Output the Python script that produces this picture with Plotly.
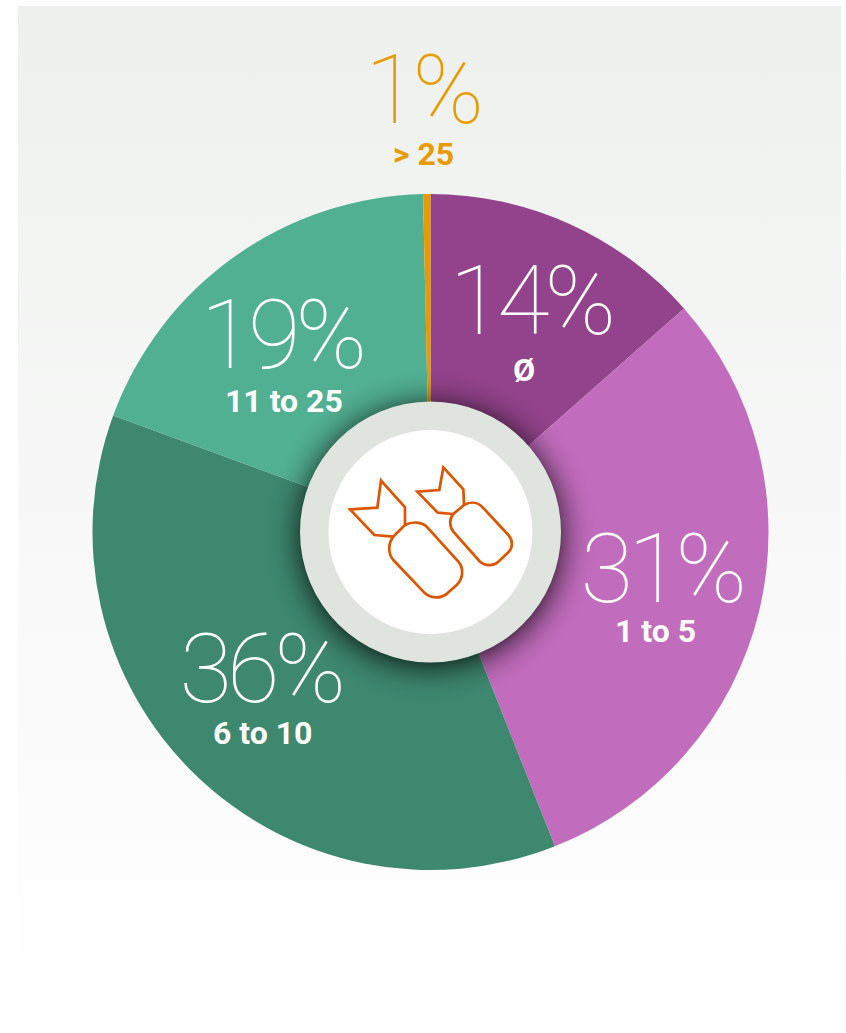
import base64
import plotly.graph_objects as go

W, H = 846, 1033

# data
categories = ["Ø", "1 to 5", "6 to 10", "11 to 25", "> 25"]
slice_values = [13.5, 30.5, 36.6, 19.05, 0.35]
percent_labels = ["14%", "31%", "36%", "19%", "1%"]
slice_colors = ["#93438B", "#C26CBD", "#3E8870", "#52B092", "#E89B00"]

# text placement (pixels): percent centre, label centre
pct_pos = [(530, 301), (661, 569), (260, 669), (281, 335), (422, 90)]
cat_pos = [(524, 370), (655, 631), (262, 733), (284, 401), (424, 154)]
text_colors = ["#FFFFFF", "#FFFFFF", "#FFFFFF", "#FFFFFF", "#E89B00"]

CX, CY, R = 430.5, 532, 338


def px(x):
    return x / W


def py(y):
    return 1 - y / H


def svg_uri(body):
    svg = f'<svg xmlns="http://www.w3.org/2000/svg" width="{W}" height="{H}" viewBox="0 0 {W} {H}">{body}</svg>'
    return "data:image/svg+xml;base64," + base64.b64encode(svg.encode()).decode()


bg = svg_uri(
    '<defs><linearGradient id="g" x1="0" y1="0" x2="0" y2="1">'
    '<stop offset="0" stop-color="#EEF0EE"/><stop offset="1" stop-color="#FFFFFF"/>'
    '</linearGradient></defs><rect x="18" y="6" width="823" height="986" fill="url(#g)"/>'
)
shadow = svg_uri(
    '<defs><radialGradient id="s" gradientUnits="userSpaceOnUse" cx="431" cy="536" r="168">'
    '<stop offset="0.76" stop-color="#000" stop-opacity="0.5"/>'
    '<stop offset="0.80" stop-color="#000" stop-opacity="0.33"/>'
    '<stop offset="0.85" stop-color="#000" stop-opacity="0.17"/>'
    '<stop offset="0.90" stop-color="#000" stop-opacity="0.07"/>'
    '<stop offset="0.95" stop-color="#000" stop-opacity="0.02"/>'
    '<stop offset="1" stop-color="#000" stop-opacity="0"/>'
    '</radialGradient></defs><circle cx="431" cy="536" r="168" fill="url(#s)"/>'
)


def z(x, y):
    """zoom-crop coordinates to paper coordinates"""
    return f"{px(290 + x / 3):.5f},{py(390 + y / 3):.5f}"


def path(cmds):
    out = []
    for c in cmds:
        out.append(c[0] + " ".join(z(*p) for p in c[1:]))
    return " ".join(out)


tail_big = path([("M", (345, 405)), ("L", (345, 352)), ("L", (273, 272)), ("L", (262, 353)), ("L", (180, 358)),
                 ("L", (253, 435)), ("L", (310, 440))])
body_big = path([("M", (345, 405)), ("C", (365, 395), (395, 393), (412, 412)), ("L", (505, 515)),
                 ("C", (522, 535), (520, 565), (500, 585)), ("L", (472, 610)),
                 ("C", (450, 628), (422, 625), (405, 610)), ("L", (310, 510)),
                 ("C", (292, 488), (295, 460), (310, 440)), ("L", (345, 405))])
tail_small = path([("M", (522, 345)), ("L", (520, 298)), ("L", (460, 232)), ("L", (448, 300)), ("L", (382, 305)),
                   ("L", (443, 368)), ("L", (490, 372))])
body_small = path([("M", (522, 345)), ("C", (540, 335), (562, 335), (578, 352)), ("L", (655, 435)),
                   ("C", (670, 452), (668, 475), (655, 487)), ("L", (625, 515)),
                   ("C", (608, 530), (585, 528), (570, 515)), ("L", (490, 425)),
                   ("C", (477, 408), (478, 385), (490, 372)), ("L", (522, 345))])

shapes = [
    dict(type="circle", xref="paper", yref="paper", x0=px(CX - 130.5), x1=px(CX + 130.5),
         y0=py(CY + 130.5), y1=py(CY - 130.5), fillcolor="#DFE4DF", line_width=0, layer="above"),
    dict(type="circle", xref="paper", yref="paper", x0=px(CX - 102), x1=px(CX + 102),
         y0=py(CY + 102), y1=py(CY - 102), fillcolor="#FFFFFF", line_width=0, layer="above"),
]
for p in (tail_big, body_big, tail_small, body_small):
    shapes.append(dict(type="path", path=p, xref="paper", yref="paper", layer="above",
                       line=dict(color="#DC5500", width=2.7), fillcolor="rgba(0,0,0,0)"))

annotations = []
for t, (x, y), c in zip(percent_labels, pct_pos, text_colors):
    annotations.append(dict(text=t, x=px(x), y=py(y), xref="paper", yref="paper", xanchor="center",
                            yanchor="middle", showarrow=False,
                            font=dict(family="Roboto", size=96, color=c, weight=100)))
for t, (x, y), c in zip(categories, cat_pos, text_colors):
    annotations.append(dict(text=t, x=px(x), y=py(y), xref="paper", yref="paper", xanchor="center",
                            yanchor="middle", showarrow=False,
                            font=dict(family="Roboto", size=32, color=c, weight=700)))

fig = go.Figure(go.Pie(
    labels=categories, values=slice_values, sort=False, direction="clockwise", rotation=0,
    marker=dict(colors=slice_colors, line=dict(width=0)), textinfo="none", hole=0.3,
    domain=dict(x=[px(CX - R), px(CX + R)], y=[py(CY + R), py(CY - R)]), showlegend=False,
))
fig.update_layout(
    width=W, height=H, autosize=False, margin=dict(l=0, r=0, t=0, b=0, pad=0),
    paper_bgcolor="#FFFFFF", showlegend=False, shapes=shapes, annotations=annotations,
    images=[
        dict(source=bg, xref="paper", yref="paper", x=0, y=1, sizex=1, sizey=1, sizing="stretch",
             xanchor="left", yanchor="top", layer="below"),
        dict(source=shadow, xref="paper", yref="paper", x=0, y=1, sizex=1, sizey=1, sizing="stretch",
             xanchor="left", yanchor="top", layer="above"),
    ],
)
fig.write_html(
    "out.html", config=dict(displayModeBar=False),
    post_script=(
        "document.body.style.margin='0';"
        "var st=document.createElement('style');"
        "st.textContent='text.annotation-text[style*=\"font-size: 96px\"]{letter-spacing:-5px}';"
        "document.head.appendChild(st);"
    ),
)
